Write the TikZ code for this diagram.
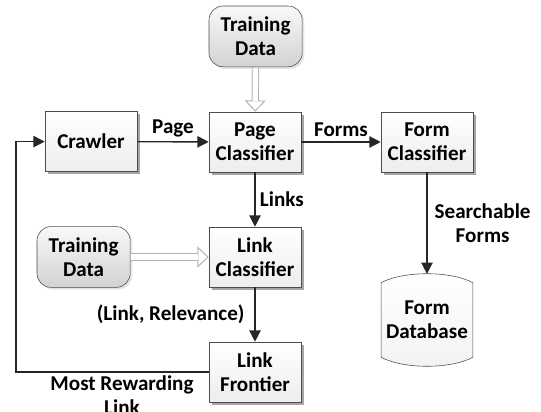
\documentclass[tikz,border=0pt]{standalone}
\usepackage{fontspec}
\setmainfont{Carlito}
\usetikzlibrary{arrows.meta,shadows,backgrounds}

\tikzset{
  box/.style={draw=gray!60!black, thin, top color=white, bottom color=gray!14,
    minimum width=2.3cm, minimum height=1.5cm, align=center,
    drop shadow={shadow xshift=2pt, shadow yshift=-2pt, fill=gray!70, opacity=1}},
  data/.style={draw=gray!60!black, thin, rounded corners=10pt, top color=gray!5,
    bottom color=gray!35, minimum width=2.33cm, minimum height=1.52cm, align=center,
    drop shadow={shadow xshift=1.5pt, shadow yshift=-1.5pt, fill=gray!20, opacity=1}},
  store/.style={minimum width=2.18cm, minimum height=1.85cm, align=center},
  flow/.style={draw=gray!30!black, line width=1pt, -{Triangle[length=8pt, width=8pt]}},
  feed/.style={draw=gray!60, line width=5.2pt,
    -{Triangle[length=8pt, width=15pt, line width=0.7pt, fill=white]},
    postaction={draw=white, line width=3.8pt, -, shorten >=7.3pt, shorten <=0.4pt}},
  lbl/.style={inner sep=3pt, align=center}
}

\begin{document}
\begin{tikzpicture}[font=\fontsize{15}{17}\selectfont\bfseries]
  \useasboundingbox (0,0) rectangle (13.525,10.3);

  % Nodes
  \node[data] (topdata) at (6.39,9.39) {Training\\Data};
  \node[box] (crawler) at (2.275,6.76) {Crawler};
  \node[box] (pagecls) at (6.375,6.75) {Page\\Classifier};
  \node[box] (formcls) at (10.675,6.75) {Form\\Classifier};
  \node[data] (leftdata) at (2.09,3.875) {Training\\Data};
  \node[box] (linkcls) at (6.375,3.875) {Link\\Classifier};
  \node[box] (frontier) at (6.375,1.0) {Link\\Frontier};
  \node[store] (formdb) at (10.675,2.3) {Form\\Database};
  \coordinate (turn) at (0.4,1.0);
  \coordinate (dbtop) at ([yshift=0.22cm]formdb.north);

  % Database outline
  \begin{scope}[on background layer]
    \draw[draw=gray!60!black, thin, top color=white, bottom color=gray!10]
      (formdb.north west) .. controls +(0.55,0.3) and +(-0.55,0.3) .. (formdb.north east)
      -- (formdb.south east) .. controls +(-0.55,-0.3) and +(0.55,-0.3) .. (formdb.south west)
      -- cycle;
  \end{scope}

  % Connectors
  \draw[feed] (topdata) -- (pagecls);
  \draw[feed] (leftdata) -- (linkcls);
  \draw[flow] (crawler) -- node[lbl, above] {Page} (pagecls);
  \draw[flow] (pagecls) -- node[lbl, above] {Forms} (formcls);
  \draw[flow] (pagecls) -- node[lbl, right] {Links} (linkcls);
  \draw[flow] (linkcls) -- node[lbl, left, xshift=-4pt] {(Link, Relevance)} (frontier);
  \draw[flow] (formcls) -- node[lbl, right, xshift=2pt] {Searchable\\Forms} (dbtop);
  \draw[flow] (frontier) -- node[lbl, pos=0.45, below, inner sep=2pt] {Most Rewarding\\Link} (turn) |- (crawler);
\end{tikzpicture}
\end{document}
